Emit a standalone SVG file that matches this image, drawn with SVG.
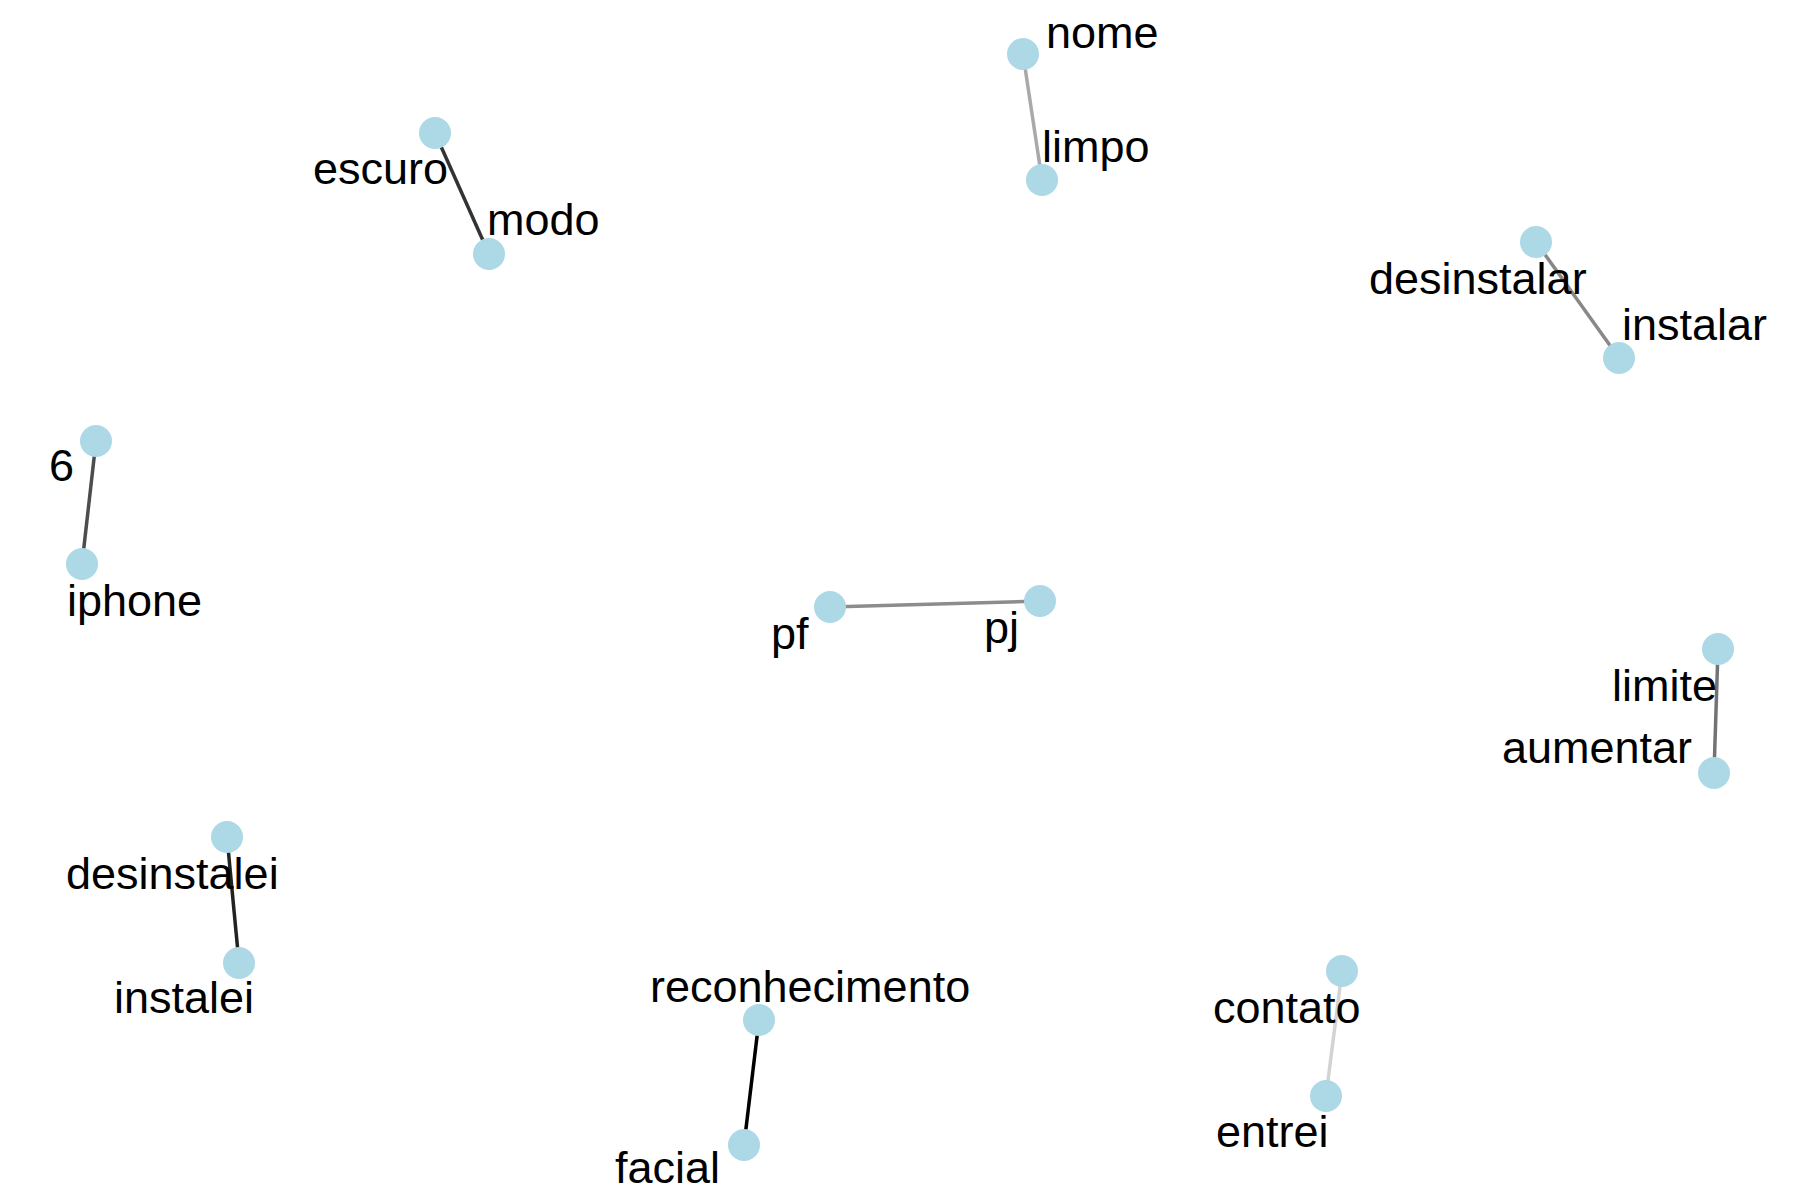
<svg xmlns="http://www.w3.org/2000/svg" width="1800" height="1200" viewBox="0 0 1800 1200">
<style>
.n{fill:#ADD8E6}
.e{fill:none;stroke-width:3.5;stroke-linecap:butt}
text{font-family:"Liberation Sans",Arial,Helvetica,sans-serif;font-size:45px;fill:#000}
</style>
<rect width="1800" height="1200" fill="#fff"/>
<g id="connectors">
<line class="e" x1="1023" y1="54" x2="1042" y2="180" stroke="#a9a9a9" stroke-width="3"/>
<line class="e" x1="435" y1="133" x2="489" y2="254" stroke="#333333"/>
<line class="e" x1="1536" y1="242" x2="1619" y2="358" stroke="#888888"/>
<line class="e" x1="96" y1="441" x2="82" y2="564" stroke="#4d4d4d"/>
<line class="e" x1="830" y1="607" x2="1040" y2="601" stroke="#8c8c8c"/>
<line class="e" x1="1718" y1="649" x2="1714" y2="773" stroke="#737373"/>
<line class="e" x1="227" y1="837" x2="239" y2="963" stroke="#222222"/>
<line class="e" x1="759" y1="1020" x2="744" y2="1145" stroke="#000000" stroke-width="4"/>
<line class="e" x1="1342" y1="971" x2="1326" y2="1096" stroke="#d3d3d3"/>
</g>
<g id="node-nome"><circle class="n" cx="1023" cy="54" r="16"/></g>
<g id="node-limpo"><circle class="n" cx="1042" cy="180" r="16"/></g>
<g id="node-escuro"><circle class="n" cx="435" cy="133" r="16"/></g>
<g id="node-modo"><circle class="n" cx="489" cy="254" r="16"/></g>
<g id="node-desinstalar"><circle class="n" cx="1536" cy="242" r="16"/></g>
<g id="node-instalar"><circle class="n" cx="1619" cy="358" r="16"/></g>
<g id="node-6"><circle class="n" cx="96" cy="441" r="16"/></g>
<g id="node-iphone"><circle class="n" cx="82" cy="564" r="16"/></g>
<g id="node-pf"><circle class="n" cx="830" cy="607" r="16"/></g>
<g id="node-pj"><circle class="n" cx="1040" cy="601" r="16"/></g>
<g id="node-limite"><circle class="n" cx="1718" cy="649" r="16"/></g>
<g id="node-aumentar"><circle class="n" cx="1714" cy="773" r="16"/></g>
<g id="node-desinstalei"><circle class="n" cx="227" cy="837" r="16"/></g>
<g id="node-instalei"><circle class="n" cx="239" cy="963" r="16"/></g>
<g id="node-reconhecimento"><circle class="n" cx="759" cy="1020" r="16"/></g>
<g id="node-facial"><circle class="n" cx="744" cy="1145" r="16"/></g>
<g id="node-contato"><circle class="n" cx="1342" cy="971" r="16"/></g>
<g id="node-entrei"><circle class="n" cx="1326" cy="1096" r="16"/></g>
<g id="labels">
<text x="1046" y="48">nome</text>
<text x="1042" y="162">limpo</text>
<text x="313" y="184">escuro</text>
<text x="487" y="235">modo</text>
<text x="1369" y="294">desinstalar</text>
<text x="1622" y="340">instalar</text>
<text x="49" y="481">6</text>
<text x="67" y="616">iphone</text>
<text x="771" y="649">pf</text>
<text x="984" y="643">pj</text>
<text x="1717" y="701" text-anchor="end">limite</text>
<text x="1692" y="763" text-anchor="end">aumentar</text>
<text x="66" y="889">desinstalei</text>
<text x="114" y="1013">instalei</text>
<text x="650" y="1002">reconhecimento</text>
<text x="615" y="1183">facial</text>
<text x="1213" y="1023">contato</text>
<text x="1216" y="1147">entrei</text>
</g>
</svg>
